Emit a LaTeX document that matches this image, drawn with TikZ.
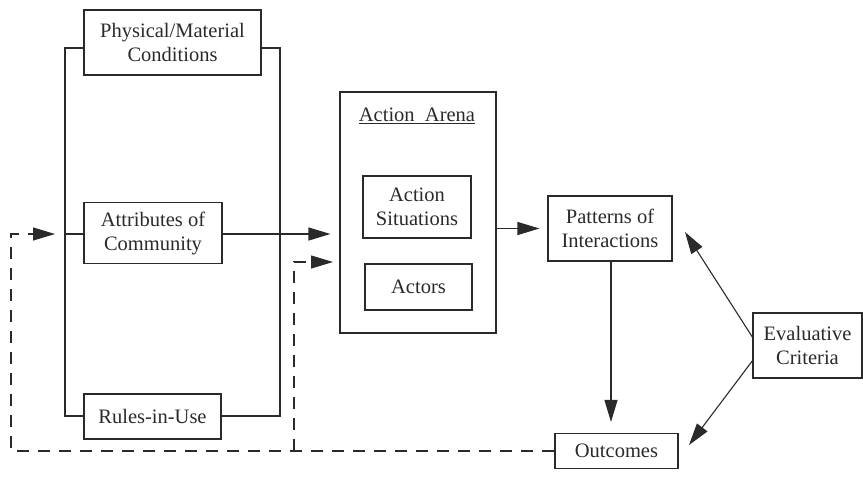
\documentclass[tikz,border=0pt]{standalone}
\usepackage{fontspec}
\setmainfont{Liberation Serif}
\usetikzlibrary{arrows.meta}
\definecolor{ink}{HTML}{2A2A2A}
\begin{document}
\begin{tikzpicture}[x=1pt,y=-1pt,
  box/.style={draw=ink,line width=1.1pt,text=ink,align=center,inner sep=0pt,
    font=\fontsize{20.5}{24}\selectfont},
  conn/.style={draw=ink,line width=1.1pt},
  tip/.style={-{Triangle[length=22pt,width=13pt]}},
  dash line/.style={conn,dash pattern=on 12pt off 9pt}]
\useasboundingbox (0,0) rectangle (863,477);
\node[box,minimum width=177pt,minimum height=65pt] (phys) at (172.5,42.5) {Physical/Material\\Conditions};
\node[box,minimum width=138pt,minimum height=61pt] (attr) at (153,233) {Attributes of\\Community};
\node[box,minimum width=137pt,minimum height=45pt] (rules) at (152.5,416.5) {Rules-in-Use};
\node[box,minimum width=156pt,minimum height=241pt] (arena) at (418,212.5) {};
\node[box,draw=none] (arenalabel) at (417,116) {\underline{Action\ \ Arena}};
\node[box,minimum width=108pt,minimum height=62pt] (sit) at (417,207) {Action\\Situations};
\node[box,minimum width=107pt,minimum height=46pt] (actors) at (418.5,287) {Actors};
\node[box,minimum width=124pt,minimum height=65pt] (pat) at (610,228.5) {Patterns of\\Interactions};
\node[box,minimum width=123pt,minimum height=35pt] (out) at (616.5,451) {Outcomes};
\node[box,minimum width=109pt,minimum height=65pt] (eval) at (807.5,345.5) {Evaluative\\Criteria};

\coordinate (lt) at (65,48);
\coordinate (lb) at (65,416);
\coordinate (rt) at (280,48);
\coordinate (rb) at (280,416);
\coordinate (la) at (65,234);
\draw[conn] (phys.west |- lt) -- (lt) -- (lb) -- (rules.west |- lb);
\draw[conn] (phys.east |- rt) -- (rt) -- (rb) -- (rules.east |- rb);
\draw[conn] (attr.west |- la) -- (la);
\draw[conn,tip,shorten >=9pt] (attr.east |- la) -- (arena.west |- la);
\draw[conn,tip,shorten >=8pt] (arena.east |- pat.west) -- (pat.west);
\draw[conn,tip,shorten >=11pt] (pat.south -| 611,0) -- (out.north -| 611,0);

\coordinate (e1) at (753,338);
\coordinate (p1) at (685,232);
\coordinate (e2) at (753,360);
\coordinate (o1) at (689,445);
\draw[conn,tip] (e1) -- (p1);
\draw[conn,tip] (e2) -- (o1);

\coordinate (dl) at (11,451);
\coordinate (dm) at (294,451);
\coordinate (dr) at (55,234);
\coordinate (d2) at (333,262);
\draw[dash line,tip] (out.west) -- (dl) -- (11,234) -- (dr);
\draw[dash line,tip] (dm) -- (294,262) -- (d2);
\end{tikzpicture}
\end{document}
